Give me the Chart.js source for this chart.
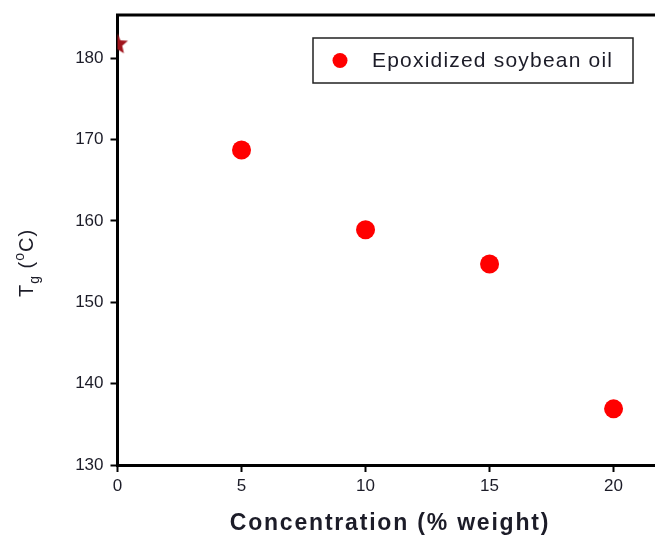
<!DOCTYPE html>
<html>
<head>
<meta charset="utf-8">
<style>
  html, body { margin: 0; padding: 0; background: #fff; }
  #wrap { width: 655px; height: 540px; }
</style>
<script src="https://cdn.jsdelivr.net/npm/chart.js@4/dist/chart.umd.min.js"></script>
</head>
<body>
<div id="wrap"><canvas id="c" width="655" height="540"></canvas></div>
<script>
// Glass transition temperature vs. epoxidized soybean oil loading
const concentration = [5, 10, 15, 20];          // % weight
const tgValues = [168.7, 158.9, 154.7, 136.9];  // Tg in °C
const neatConcentration = [0];
const neatTg = [181.7];
const xTicks = [0, 5, 10, 15, 20];
const yTicks = [130, 140, 150, 160, 170, 180];

const seriesLabel = 'Epoxidized soybean oil';
const xTitle = 'Concentration (% weight)';

const FONT = '"Liberation Sans", Arial, sans-serif';
const TEXT = '#1c1c28';

// filled five-point star used for the neat resin point
function makeStar(r, fill) {
  const c = document.createElement('canvas');
  c.width = c.height = r * 2 + 2;
  const g = c.getContext('2d');
  g.translate(r + 1, r + 1);
  g.beginPath();
  for (let i = 0; i < 10; i++) {
    const rad = i % 2 === 0 ? r : r * 0.45;
    const a = -Math.PI / 2 + i * Math.PI / 5;
    g.lineTo(rad * Math.cos(a), rad * Math.sin(a));
  }
  g.closePath();
  g.fillStyle = fill;
  g.fill();
  return c;
}

const fixedTicks = list => scale => {
  scale.ticks = list.map(v => ({ value: v }));
};

// top frame, axis titles and the in-plot legend
const decorations = {
  id: 'decorations',
  afterDatasetsDraw(chart) {
    const { ctx, chartArea: a } = chart;
    ctx.save();
    // top frame line
    ctx.strokeStyle = '#000';
    ctx.lineWidth = 3;
    ctx.beginPath();
    ctx.moveTo(a.left - 1.5, a.top);
    ctx.lineTo(chart.width, a.top);
    ctx.stroke();

    // legend box
    const bx = 313, by = 38, bw = 320, bh = 45;
    ctx.lineWidth = 1.5;
    ctx.strokeStyle = '#222';
    ctx.strokeRect(bx, by, bw, bh);
    ctx.fillStyle = '#ff0000';
    ctx.beginPath();
    ctx.arc(bx + 27, by + 22.5, 7.5, 0, Math.PI * 2);
    ctx.fill();
    ctx.fillStyle = TEXT;
    ctx.font = '21px ' + FONT;
    ctx.letterSpacing = '1.2px';
    ctx.textBaseline = 'middle';
    ctx.fillText(chart.data.datasets[0].label, bx + 59, by + 23);

    // x-axis title
    ctx.font = 'bold 23px ' + FONT;
    ctx.letterSpacing = '1.8px';
    ctx.textAlign = 'center';
    ctx.fillText(xTitle, 390, 524);
    ctx.textAlign = 'left';

    // y-axis title: T_g (°C)
    ctx.letterSpacing = '1px';
    ctx.translate(33, 263);
    ctx.rotate(-Math.PI / 2);
    ctx.textBaseline = 'alphabetic';
    const main = '20px ' + FONT, small = '14px ' + FONT;
    const parts = [
      ['T', main, 0], ['g', small, 6], [' (', main, 0],
      ['o', small, -9], ['C)', main, 0]
    ];
    let w = 0;
    parts.forEach(p => { ctx.font = p[1]; w += ctx.measureText(p[0]).width; });
    let x = -w / 2;
    parts.forEach(p => {
      ctx.font = p[1];
      ctx.fillText(p[0], x, p[2]);
      x += ctx.measureText(p[0]).width;
    });
    ctx.restore();
  }
};

new Chart(document.getElementById('c'), {
  type: 'scatter',
  data: {
    datasets: [
      {
        label: seriesLabel,
        data: concentration.map((x, i) => ({ x, y: tgValues[i] })),
        backgroundColor: '#ff0000',
        borderColor: '#ff0000',
        pointRadius: 9.5,
        pointHoverRadius: 9.5,
        borderWidth: 0
      },
      {
        label: 'neat',
        data: neatConcentration.map((x, i) => ({ x, y: neatTg[i] })),
        pointStyle: makeStar(11, '#a0141c'),
        clip: 0
      }
    ]
  },
  options: {
    responsive: false,
    animation: false,
    events: [],
    layout: { autoPadding: false, padding: { top: 15, right: 0, left: 0, bottom: 0 } },
    plugins: { legend: { display: false }, tooltip: { enabled: false } },
    scales: {
      x: {
        type: 'linear',
        min: 0,
        max: 21.67,
        afterBuildTicks: fixedTicks(xTicks),
        afterFit: s => { s.height = 75; s.paddingLeft = 0; s.paddingRight = 0; },
        border: { display: true, color: '#000', width: 3 },
        grid: { display: true, drawOnChartArea: false, drawTicks: true, tickLength: 7, tickWidth: 2, tickColor: '#000', color: '#000' },
        ticks: { color: TEXT, font: { family: FONT, size: 17 }, padding: 4, maxRotation: 0, autoSkip: false }
      },
      y: {
        type: 'linear',
        min: 130,
        max: 185.3,
        afterBuildTicks: fixedTicks(yTicks),
        afterFit: s => { s.width = 117.5; s.paddingTop = 0; s.paddingBottom = 0; },
        border: { display: true, color: '#000', width: 3 },
        grid: { display: true, drawOnChartArea: false, drawTicks: true, tickLength: 7, tickWidth: 2, tickColor: '#000', color: '#000' },
        ticks: { color: TEXT, font: { family: FONT, size: 17 }, padding: 7, autoSkip: false }
      }
    }
  },
  plugins: [decorations]
});
</script>
</body>
</html>
